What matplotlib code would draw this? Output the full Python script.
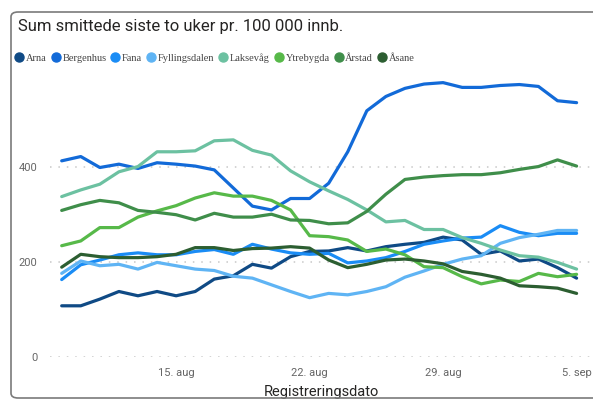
import matplotlib
matplotlib.use('Agg')
import matplotlib.pyplot as plt
import matplotlib.dates as mdates
from matplotlib.patches import FancyBboxPatch
from matplotlib.lines import Line2D
import pandas as pd

# data (smittede per 100 000, sum siste 14 dager)
start_date = '2020-08-09'
arna = [108, 108, 122, 138, 129, 138, 129, 138, 164, 171, 195, 187, 211, 222,
        223, 230, 223, 232, 237, 241, 252, 246, 216, 223, 202, 206, 188, 166]
bergenhus = [412, 421, 398, 405, 396, 408, 405, 401, 393, 355, 317, 309, 333, 333,
             365, 431, 517, 547, 564, 573, 576, 566, 566, 570, 572, 568, 538, 534]
fana = [163, 194, 204, 215, 219, 215, 215, 222, 226, 216, 237, 227, 219, 216,
        218, 198, 202, 209, 222, 237, 244, 250, 252, 276, 262, 255, 260, 260]
fyllingsdalen = [176, 202, 192, 195, 185, 199, 192, 185, 182, 170, 166, 152, 138, 125,
                 134, 131, 138, 148, 168, 181, 195, 206, 213, 239, 251, 258, 266, 266]
laksevag = [337, 351, 363, 389, 400, 431, 431, 433, 454, 456, 434, 424, 391, 368,
            349, 331, 309, 284, 287, 268, 268, 251, 239, 225, 213, 210, 199, 185]
ytrebygda = [234, 244, 272, 272, 294, 307, 318, 334, 345, 338, 338, 329, 309, 255,
             253, 246, 222, 227, 215, 190, 188, 169, 154, 162, 159, 176, 169, 174]
arstad = [308, 320, 329, 324, 308, 304, 299, 288, 302, 294, 294, 300, 288, 287,
          280, 282, 306, 342, 373, 378, 381, 383, 383, 387, 394, 400, 414, 401]
asane = [189, 216, 211, 209, 209, 211, 216, 230, 230, 224, 228, 229, 232, 229,
         204, 188, 195, 204, 206, 202, 196, 180, 174, 166, 150, 148, 145, 134]

names = ['Arna', 'Bergenhus', 'Fana', 'Fyllingsdalen', 'Laksevåg', 'Ytrebygda', 'Årstad', 'Åsane']
series = [arna, bergenhus, fana, fyllingsdalen, laksevag, ytrebygda, arstad, asane]
colors = ['#0f4a85', '#126ad8', '#1a8cf5', '#5fb4f4', '#6cc1a1', '#57b949', '#3f8e4a', '#2c5e31']
tick_dates = ['2020-08-15', '2020-08-22', '2020-08-29', '2020-09-05']
tick_labels = ['15. aug', '22. aug', '29. aug', '5. sep']
yticks = [0, 200, 400]

dates = pd.date_range(start_date, periods=len(arna), freq='D')

W, H = 593, 401
fig = plt.figure(figsize=(W / 100, H / 100), dpi=100)

# rounded frame round the visual (cut off at the right, as in the screenshot)
frame = FancyBboxPatch((11 / W, 3 / H), 640 / W, 386 / H,
                       boxstyle='round,pad=0,rounding_size=0.012',
                       transform=fig.transFigure, fill=False,
                       edgecolor='#7a7a7a', linewidth=1.2, clip_on=False)
fig.patches.append(frame)

fig.text(18 / W, 1 - 27 / H, 'Sum smittede siste to uker pr. 100 000 innb.',
         fontsize=12, family='Roboto', color='#252423', va='center', ha='left')

# plot area: from px 50 to the right edge, y=0 at px 357, top at px 75
ax = fig.add_axes([50 / W, (H - 357.3) / H, (W - 50) / W, (357.3 - 75) / H])
for vals, c in zip(series, colors):
    ax.plot(dates, vals, color=c, lw=2.3, solid_capstyle='round', solid_joinstyle='round')

px_per_day = 19.07
x0 = mdates.date2num(dates[0])
ax.set_xlim(x0 - 11.7 / px_per_day, x0 + (W - 61.7) / px_per_day)
ax.set_ylim(0, 592)

ax.set_yticks(yticks)
ax.set_yticklabels([str(v) for v in yticks])
ax.set_xticks([mdates.date2num(pd.Timestamp(d)) for d in tick_dates])
ax.set_xticklabels(tick_labels)
ax.tick_params(length=0, colors='#666666', labelsize=8)
ax.tick_params(axis='y', pad=9)
ax.tick_params(axis='x', pad=8)
for lab in ax.get_xticklabels() + ax.get_yticklabels():
    lab.set_family('Roboto')
ax.grid(axis='y', color='#c8c8c8', lw=1.1, linestyle=(0, (1, 4.5)))
ax.set_axisbelow(True)
for s in ax.spines.values():
    s.set_visible(False)
ax.set_xlabel('Registreringsdato', fontsize=10.5, family='Roboto', color='#252423', labelpad=5)

handles = [Line2D([], [], marker='o', ls='', markersize=6.5, color=c) for c in colors]
fig.legend(handles, names, loc='center left', bbox_to_anchor=(12 / W, 1 - 58 / H),
           ncol=8, frameon=False, handlelength=0.6, handletextpad=0.35,
           columnspacing=0.55, borderaxespad=0,
           prop={'family': 'Liberation Serif', 'size': 7.5}, labelcolor='#444444')

fig.savefig('out.png', dpi=100)
